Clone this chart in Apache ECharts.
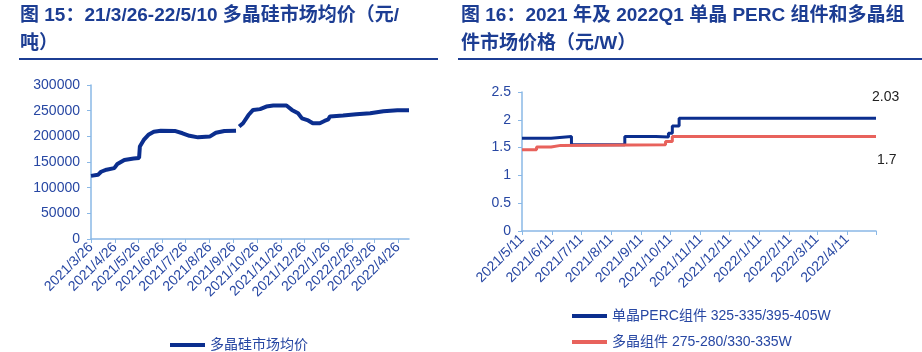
<!DOCTYPE html>
<html>
<head>
<meta charset="utf-8">
<title>多晶硅与组件价格</title>
<script src="https://cdn.jsdelivr.net/npm/echarts@6/dist/echarts.min.js"></script>
<style>
  body { margin: 0; background: #fff; }
  #main { width: 922px; height: 352px; }
</style>
</head>
<body>
<div id="main"></div>
<script>
// 图15 多晶硅市场均价（元/吨）
const polyName = '多晶硅市场均价';
const polyData = [
  ['2021/3/26', 123000], ['2021/4/4', 125000], ['2021/4/8', 131000], ['2021/4/15', 135000],
  ['2021/4/25', 138000], ['2021/4/29', 146000], ['2021/5/8', 154000], ['2021/5/20', 157000],
  ['2021/5/27', 158000], ['2021/5/28', 180000], ['2021/6/2', 193000], ['2021/6/8', 203000],
  ['2021/6/15', 209000], ['2021/6/24', 211000], ['2021/7/12', 210500], ['2021/7/22', 206000],
  ['2021/7/31', 201000], ['2021/8/11', 198000], ['2021/8/26', 199500], ['2021/9/3', 207000],
  ['2021/9/14', 210500], ['2021/9/29', 211000], ['2021/10/1', null],
  ['2021/10/3', 219000], ['2021/10/8', 225500], ['2021/10/15', 241500], ['2021/10/21', 251500],
  ['2021/10/30', 253000], ['2021/11/7', 258000], ['2021/11/16', 260000], ['2021/12/3', 260000],
  ['2021/12/10', 251500], ['2021/12/18', 245000], ['2021/12/23', 235000], ['2021/12/31', 231000],
  ['2022/1/6', 225500], ['2022/1/15', 225500], ['2022/1/21', 230000], ['2022/1/26', 233000],
  ['2022/1/28', 238500], ['2022/2/14', 240500], ['2022/3/3', 243000], ['2022/3/21', 245000],
  ['2022/4/7', 249000], ['2022/4/25', 251000], ['2022/5/10', 251000]
];
const polyTicks = ['2021/3/26', '2021/4/26', '2021/5/26', '2021/6/26', '2021/7/26', '2021/8/26', '2021/9/26',
  '2021/10/26', '2021/11/26', '2021/12/26', '2022/1/26', '2022/2/26', '2022/3/26', '2022/4/26'];
const polyRange = ['2021/3/26', '2022/5/10'];

// 图16 组件价格（元/W）
const monoName = '单晶PERC组件 325-335/395-405W';
const multiName = '多晶组件 275-280/330-335W';
const monoData = [
  ['2021/5/11', 1.67], ['2021/6/10', 1.70], ['2021/7/1', 1.55], ['2021/8/25', 1.70],
  ['2021/9/26', 1.69], ['2021/10/9', 1.76], ['2021/10/13', 1.89], ['2021/10/20', 2.03],
  ['2022/5/11', 2.03]
];
const multiData = [
  ['2021/5/11', 1.46], ['2021/5/26', 1.51], ['2021/6/10', 1.54], ['2021/6/20', 1.55],
  ['2021/10/6', 1.61], ['2021/10/13', 1.70], ['2022/5/11', 1.70]
];
const moduleTicks = ['2021/5/11', '2021/6/11', '2021/7/11', '2021/8/11', '2021/9/11', '2021/10/11',
  '2021/11/11', '2021/12/11', '2022/1/11', '2022/2/11', '2022/3/11', '2022/4/11', '2022/5/11'];
const moduleRange = ['2021/5/11', '2022/5/11'];

const titleColor = '#1c3d93';
const labelColor = '#2747a3';
const axisColor = '#8ab8e6';
const navy = '#0b2e8e';
const red = '#e8625c';
const fontFam = '"Liberation Sans", "Noto Sans CJK SC", sans-serif';

function toTime(s) {
  const p = s.split('/').map(Number);
  return +new Date(p[0], p[1] - 1, p[2]);
}
function fmt(v) {
  const d = new Date(v);
  return d.getFullYear() + '/' + (d.getMonth() + 1) + '/' + d.getDate();
}
function pts(arr) {
  return arr.map(d => [toTime(d[0]), d[1]]);
}

function xAxisFor(gridIndex, ticks, range, showLast) {
  const vals = ticks.map(toTime);
  return {
    type: 'value', gridIndex: gridIndex,
    min: toTime(range[0]), max: toTime(range[1]),
    axisLine: { lineStyle: { color: axisColor, width: 1.5 } },
    axisTick: { show: true, customValues: vals, length: 4, lineStyle: { color: axisColor } },
    axisLabel: {
      customValues: showLast ? vals : vals.slice(0, -1),
      rotate: 45, fontSize: 14, color: labelColor, fontFamily: fontFam,
      formatter: fmt, margin: 6
    },
    splitLine: { show: false }
  };
}
function yAxisFor(gridIndex, max, interval) {
  return {
    type: 'value', gridIndex: gridIndex, min: 0, max: max, interval: interval,
    axisLine: { show: true, lineStyle: { color: axisColor, width: 1.5 } },
    axisTick: { show: true, length: 4, lineStyle: { color: axisColor } },
    axisLabel: { fontSize: 14, color: labelColor, fontFamily: fontFam, margin: 11,
      formatter: v => String(v) },
    splitLine: { show: false }
  };
}
function legendFor(name, left, top) {
  return { data: [name], left: left, top: top, icon: 'rect', itemWidth: 35, itemHeight: 4,
    itemGap: 6, textStyle: { fontSize: 14, color: labelColor, fontFamily: fontFam } };
}

const option = {
  animation: false,
  textStyle: { fontFamily: fontFam },
  graphic: [
    { type: 'text', left: 20, top: 2, style: {
      text: '图 15：21/3/26-22/5/10 多晶硅市场均价（元/\n吨）',
      font: 'bold 19px ' + fontFam, fill: titleColor, lineHeight: 28 } },
    { type: 'text', left: 461, top: 2, style: {
      text: '图 16：2021 年及 2022Q1 单晶 PERC 组件和多晶组\n件市场价格（元/W）',
      font: 'bold 19px ' + fontFam, fill: titleColor, lineHeight: 28 } },
    { type: 'rect', shape: { x: 19, y: 58, width: 419, height: 2 }, style: { fill: titleColor } },
    { type: 'rect', shape: { x: 458, y: 58, width: 464, height: 2 }, style: { fill: titleColor } }
  ],
  grid: [
    { left: 91, top: 85, right: 513, bottom: 113 },
    { left: 522, top: 92, right: 46, bottom: 121 }
  ],
  legend: [
    legendFor(polyName, 165, 333),
    legendFor(monoName, 567, 304),
    legendFor(multiName, 567, 330)
  ],
  xAxis: [
    xAxisFor(0, polyTicks, polyRange, true),
    xAxisFor(1, moduleTicks, moduleRange, false)
  ],
  yAxis: [
    yAxisFor(0, 300000, 50000),
    yAxisFor(1, 2.5, 0.5)
  ],
  series: [
    { name: polyName, type: 'line', xAxisIndex: 0, yAxisIndex: 0, data: pts(polyData),
      showSymbol: false, connectNulls: false, color: navy, lineStyle: { width: 4 } },
    { name: monoName, type: 'line', xAxisIndex: 1, yAxisIndex: 1, step: 'end',
      showSymbol: false, color: navy, lineStyle: { width: 3 }, data: pts(monoData),
      endLabel: { show: true, offset: [-12, -21], fontSize: 14, color: '#222',
        fontFamily: fontFam, formatter: p => p.value[1] } },
    { name: multiName, type: 'line', xAxisIndex: 1, yAxisIndex: 1, step: 'end',
      showSymbol: false, color: red, lineStyle: { width: 3 }, data: pts(multiData),
      endLabel: { show: true, offset: [-7, 24], fontSize: 14, color: '#222',
        fontFamily: fontFam, formatter: p => p.value[1] } }
  ]
};

const chart = echarts.init(document.getElementById('main'));
chart.setOption(option);
</script>
</body>
</html>
